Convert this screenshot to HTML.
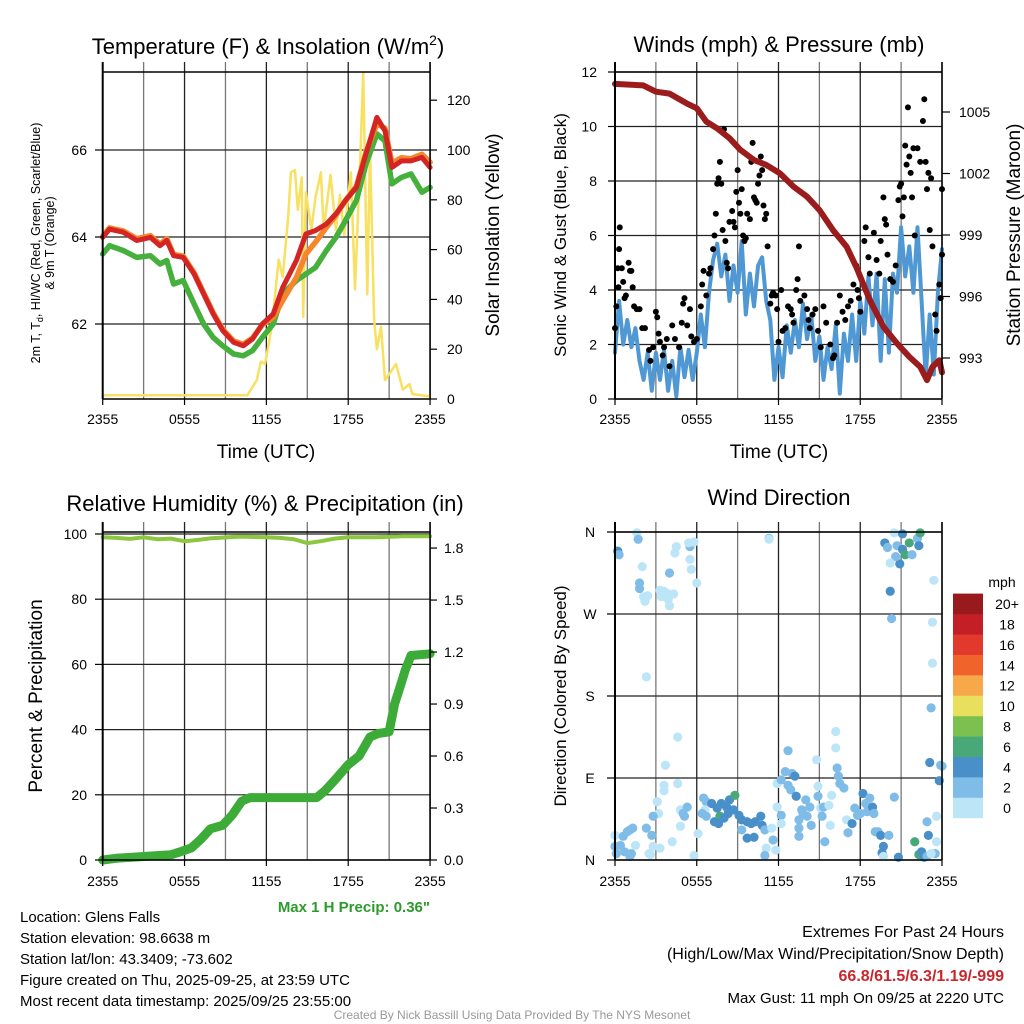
<!DOCTYPE html>
<html><head><meta charset="utf-8"><title>Glens Falls Mesonet</title>
<style>
html,body{margin:0;padding:0;background:#fff;}
svg{display:block;font-family:"Liberation Sans",Arial,sans-serif;}
</style></head>
<body>
<svg id="chart" width="1024" height="1024" viewBox="0 0 1024 1024" xmlns="http://www.w3.org/2000/svg">
<rect width="1024" height="1024" fill="#fff"/>
<g id="grids"></g>
<g id="marks"></g>
<g id="axes"></g>
<g id="labels" fill="#000">
  <text x="268" y="54" font-size="22" text-anchor="middle">Temperature (F) &amp; Insolation (W/m<tspan dy="-9" font-size="14">2</tspan><tspan dy="9">)</tspan></text>
  <text x="779" y="52" font-size="22" text-anchor="middle">Winds (mph) &amp; Pressure (mb)</text>
  <text x="265" y="511" font-size="22" text-anchor="middle">Relative Humidity (%) &amp; Precipitation (in)</text>
  <text x="779" y="505" font-size="22" text-anchor="middle">Wind Direction</text>

  <text x="266" y="458" font-size="19" text-anchor="middle">Time (UTC)</text>
  <text x="779" y="458" font-size="19" text-anchor="middle">Time (UTC)</text>

  <text transform="translate(40,243) rotate(-90)" font-size="12.5" text-anchor="middle">2m T, T<tspan dy="3" font-size="9">d</tspan><tspan dy="-3">, HI/WC (Red, Green, Scarlet/Blue)</tspan></text>
  <text transform="translate(54,243) rotate(-90)" font-size="12.5" text-anchor="middle">&amp; 9m T (Orange)</text>
  <text transform="translate(499,235) rotate(-90)" font-size="19" text-anchor="middle">Solar Insolation (Yellow)</text>
  <text transform="translate(566,235) rotate(-90)" font-size="17" text-anchor="middle">Sonic Wind &amp; Gust (Blue, Black)</text>
  <text transform="translate(1020,235) rotate(-90)" font-size="19" text-anchor="middle">Station Pressure (Maroon)</text>
  <text transform="translate(42,696) rotate(-90)" font-size="19" text-anchor="middle">Percent &amp; Precipitation</text>
  <text transform="translate(566,696) rotate(-90)" font-size="17" text-anchor="middle">Direction (Colored By Speed)</text>

  <text x="430" y="912" font-size="15" font-weight="bold" fill="#2e9a2e" text-anchor="end">Max 1 H Precip: 0.36"</text>
  <text x="1002" y="587" font-size="14" text-anchor="middle">mph</text>

  <g font-size="15">
    <text x="20" y="922">Location: Glens Falls</text>
    <text x="20" y="943">Station elevation: 98.6638 m</text>
    <text x="20" y="964">Station lat/lon: 43.3409; -73.602</text>
    <text x="20" y="985">Figure created on Thu, 2025-09-25, at 23:59 UTC</text>
    <text x="20" y="1006">Most recent data timestamp: 2025/09/25 23:55:00</text>
  </g>
  <g font-size="15" text-anchor="end">
    <text x="1004" y="937" font-size="16">Extremes For Past 24 Hours</text>
    <text x="1004" y="959" font-size="16">(High/Low/Max Wind/Precipitation/Snow Depth)</text>
    <text x="1004" y="981" font-size="16" font-weight="bold" fill="#c8282d">66.8/61.5/6.3/1.19/-999</text>
    <text x="1004" y="1003">Max Gust: 11 mph On 09/25 at 2220 UTC</text>
  </g>
  <text x="512" y="1019" font-size="12" fill="#999" text-anchor="middle">Created By Nick Bassill Using Data Provided By The NYS Mesonet</text>
</g>
</svg>
<script>
// ---------- data ----------
const timeTickLabels = ['2355','0555','1155','1755','2355'];
const tempHours = [0,0.5,1.5,2.5,3.5,4.2,4.7,5.2,5.9,6.7,7.4,8.1,8.8,9.6,10.3,11.0,11.7,12.5,13.2,14.2,14.9,15.6,16.4,17.1,17.8,18.6,19.3,20.1,20.7,21.2,21.9,22.6,23.4,24];
const tempRed = [63.99,64.18,64.11,63.92,63.99,63.80,63.92,63.57,63.53,63.15,62.69,62.23,61.85,61.58,61.50,61.66,62.00,62.23,62.84,63.46,64.07,64.15,64.30,64.53,64.84,65.14,65.91,66.75,66.44,65.60,65.75,65.75,65.83,65.60];
const tempOrange = [64.02,64.21,64.14,63.96,64.03,63.84,63.96,63.60,63.56,63.18,62.72,62.26,61.88,61.61,61.53,61.68,61.98,62.15,62.54,63.07,63.61,63.88,64.22,64.50,64.84,65.16,65.95,66.60,66.50,65.70,65.82,65.80,65.90,65.72];
const tempGreen = [63.61,63.80,63.69,63.53,63.57,63.38,63.46,62.92,63.00,62.46,62.00,61.69,61.50,61.31,61.27,61.39,61.69,62.00,62.69,63.00,63.15,63.30,63.69,63.99,64.38,64.84,65.68,66.37,66.21,65.22,65.37,65.45,65.03,65.14];
const tempTicks = [62,64,66];
const solarHours = [0,10.6,11.3,11.6,11.9,12.4,12.9,13.2,13.6,13.8,14.1,14.3,14.6,14.7,14.9,15.3,15.6,16.0,16.2,16.7,17.1,17.4,17.7,18.2,18.5,18.9,19.1,19.4,19.6,19.9,20.1,20.4,20.7,21.2,21.5,22.0,22.5,22.7,24];
const solarValues = [1.5,1.5,7.6,15,14,29,56,49,73,91,92,76,89,33,83,68,81,91,68,90,68,82,66,91,44,99,131,42,101,32,20,29,7.6,11.6,14,3.8,6,2,1];
const solarTicks = [0,20,40,60,80,100,120];

const windHours = [0,0.3,0.6,0.9,1.2,1.5,1.8,2.1,2.4,2.7,3.0,3.3,3.6,3.9,4.2,4.5,4.8,5.1,5.4,5.7,6.0,6.3,6.6,6.9,7.2,7.5,7.8,8.1,8.4,8.7,9.0,9.3,9.6,9.9,10.2,10.5,10.8,11.1,11.4,11.7,12.0,12.3,12.6,12.9,13.2,13.5,13.8,14.1,14.4,14.7,15.0,15.3,15.6,15.9,16.2,16.5,16.8,17.1,17.4,17.7,18.0,18.3,18.6,18.9,19.2,19.5,19.8,20.1,20.4,20.7,21.0,21.3,21.6,21.9,22.2,22.5,22.8,23.1,23.4,23.7,24];
const windSpeed = [1.7,3.6,2.0,2.9,1.9,2.6,1.4,0.7,1.7,0.3,1.7,0.7,1.8,0.3,1.4,0.1,1.9,0.8,1.8,0.7,1.7,3.1,1.9,3.9,5.1,5.7,4.5,5.3,3.6,4.9,3.9,5.8,3.1,4.6,3.4,4.9,5.2,3.6,2.9,0.7,1.9,0.8,2.7,1.7,2.9,1.9,3.5,2.2,3.1,1.4,2.3,0.7,1.9,1.1,2.7,0.2,2.4,1.4,3.1,1.4,3.6,2.4,4.5,2.7,4.6,1.4,4.4,1.7,4.6,3.9,6.3,4.5,5.6,3.9,6.3,3.6,0.8,3.1,0.9,3.9,5.5];
const gustHours = [0.0,0.1,0.2,0.3,0.35,0.25,0.5,0.6,0.7,0.8,1.0,1.1,1.2,1.3,1.4,1.6,1.8,2.0,2.2,2.5,2.6,2.8,3.0,3.1,3.2,3.3,3.5,3.6,3.8,4.0,4.2,4.4,4.7,4.9,5.0,5.1,5.3,5.5,5.6,5.8,6.0,6.3,6.4,6.5,6.7,6.9,7.0,7.2,7.3,7.4,7.5,7.6,7.7,7.8,7.9,8.0,8.1,8.2,8.3,8.4,8.6,8.7,8.8,8.9,9.0,9.1,9.2,9.3,9.4,9.5,9.6,9.7,9.9,10.0,10.1,10.2,10.3,10.4,10.5,10.6,10.7,10.8,10.9,11.0,11.1,11.2,11.4,11.5,11.6,11.8,11.9,12.0,12.2,12.3,12.5,12.7,12.9,13.0,13.1,13.3,13.4,13.5,13.6,13.9,14.1,14.2,14.3,14.5,14.7,14.9,15.1,15.3,15.5,15.8,16.0,16.1,16.3,16.5,16.7,16.9,17.1,17.3,17.5,17.7,17.8,17.9,18.0,18.3,18.4,18.6,18.7,19.0,19.2,19.4,19.5,19.7,19.8,19.9,20.0,20.2,20.4,20.6,20.8,20.9,21.0,21.1,21.2,21.3,21.4,21.5,21.6,21.7,21.8,21.9,22.0,22.2,22.4,22.6,22.7,22.8,22.9,23.0,23.1,23.2,23.3,23.5,23.6,23.8,23.9,24.0,24.0];
const gustSpeed = [2.6,3.4,4.8,5.5,6.3,4.1,4.8,4.3,3.7,3.8,5.0,4.7,4.7,4.1,3.4,3.3,3.3,2.6,2.6,1.8,1.4,1.9,3.2,3.0,2.4,2.1,1.6,1.9,2.2,1.2,2.7,2.2,1.9,2.8,3.5,3.7,2.7,3.3,2.3,2.1,2.2,3.4,4.2,4.7,3.8,4.6,4.8,5.5,6.0,6.8,7.9,8.1,8.7,7.9,6.2,9.9,5.8,5.0,4.8,6.5,6.9,6.5,6.3,7.6,8.4,7.2,6.8,7.7,6.0,5.8,5.9,6.8,6.6,8.7,9.4,7.4,7.3,7.2,7.9,8.2,8.9,8.4,7.1,6.6,6.8,5.6,3.5,3.8,3.9,3.8,3.3,2.1,4.0,2.5,2.6,3.4,3.3,3.1,2.8,4.0,4.4,5.6,3.6,3.8,3.3,2.9,2.6,3.1,3.3,2.5,1.9,3.4,2.8,2.0,1.5,1.6,2.8,3.8,3.2,2.9,3.4,3.6,4.2,4.9,4.0,3.7,3.2,5.8,6.3,5.2,4.6,6.1,5.1,4.6,5.8,7.4,6.6,6.4,5.3,4.4,4.3,4.9,7.3,7.8,7.9,6.7,7.4,9.3,8.6,10.7,8.9,8.3,7.4,9.2,6.0,9.2,8.7,10.2,11.0,8.7,7.7,8.3,6.2,8.1,5.6,3.1,2.5,4.2,3.7,5.3,7.7];
const pressHours = [0,2.08,3.0,4.0,5.26,6.0,6.7,7.5,8.4,9.2,10.2,11.1,12.1,13.1,14.1,15.0,16.0,17.0,17.7,18.7,19.7,20.7,21.6,22.4,22.9,23.3,23.8,24];
const pressValues = [1006.37,1006.3,1005.99,1005.9,1005.42,1005.18,1004.53,1004.2,1003.72,1003.15,1002.66,1002.42,1002.01,1001.36,1000.87,1000.22,999.24,998.43,997.45,995.83,994.52,993.71,993.06,992.57,991.92,992.57,992.89,992.3];
const windTicks = [0,2,4,6,8,10,12];
const pressTicks = [993,996,999,1002,1005];

const rhHours = [0,1,2,3,4,5,6,7,8,10,12,13,14,15,16,17,18,20,22,24];
const rhValues = [99,98.8,98.5,99,98.4,98.6,97.8,98.2,98.7,99.2,99,98.8,98.4,97.2,97.8,98.6,99,99,99.3,99.3];
const precipHours = [0,1,3,5,5.8,6.5,7.2,7.9,8.8,9.5,10.2,10.8,15.7,16.3,17.0,18.0,18.8,19.6,20.2,21.0,21.4,21.8,22.2,22.6,24];
const precipValues = [0,0.01,0.02,0.03,0.05,0.07,0.12,0.18,0.2,0.26,0.34,0.36,0.36,0.4,0.46,0.55,0.6,0.71,0.73,0.74,0.9,1.0,1.1,1.18,1.19];
const rhTicks = [0,20,40,60,80,100];
const precipTicks = ['0.0','0.3','0.6','0.9','1.2','1.5','1.8'];

// wind direction points: hour, degrees, speed (mph)
const dirHours = [0.2,0.3,1.6,1.7,2.0,1.8,1.8,2.1,2.2,2.4,2.3,3.3,3.6,3.8,3.4,3.9,4.0,4.3,4.0,4.4,4.5,5.5,5.4,5.8,5.5,5.6,6.0,11.3,11.3,
 19.8,20.0,20.5,21.1,20.7,21.1,21.6,21.3,21.8,22.2,22.3,22.4,20.2,20.9,20.6,20.2,20.3,23.4,23.3,23.3,23.2,
 4.6,3.7,3.6,4.6,3.6,3.1,3.2,2.8,2.7,2.8,2.5,2.6,3.3,4.2,2.3,
 0,0,0.4,0.6,0.9,1.1,1.3,0.1,0.7,1.1,1.5,1.2,
 4.8,5.0,5.3,4.8,5.1,5.8,6.1,
 6.5,6.7,7.1,7.5,7.8,8.2,8.4,8.8,7.7,7.3,7.6,8.0,8.3,8.7,9.1,9.3,9.7,10.0,10.3,10.7,10.8,11.0,9.7,10.2,9.3,6.6,6.4,6.7,
 11.5,11.6,11.8,11.1,11.0,
 11.9,12.2,12.5,12.7,13.0,13.2,12.7,12.2,12.2,11.9,12.9,13.3,13.7,14.0,14.1,14.3,14.4,13.8,13.5,13.5,13.5,
 14.8,14.9,14.9,15.1,15.2,15.3,15.4,15.7,15.8,15.9,16.2,16.2,16.3,16.4,16.5,16.8,17.0,17.1,17.4,17.6,17.8,18.0,18.2,18.4,18.5,18.7,18.9,19.0,19.1,19.3,19.5,19.7,19.6,19.7,20.1,20.5,20.8,22.0,22.3,22.5,22.7,22.9,22.9,23.0,23.1,23.8,23.9,24.0,23.6,23.6,23.5,23.2];
const dirDegrees = [339,335,359,352,322,304,298,289,284,290,201,296,295,293,289,286,279,292,315,337,344,344,348,349,330,319,304,353,352,
 348,343,359,358,345,341,348,335,335,353,345,359,295,325,333,326,265,307,261,216,167,
 135,104,82,84,76,64,51,48,27,15,7,6,13,20,35,
 27,15,16,26,31,33,35,7,9,4,16,7,
 55,51,58,37,48,5,29,
 68,64,62,57,62,58,66,71,48,42,40,46,51,55,49,44,42,40,42,48,38,33,24,25,33,55,51,48,
 35,22,11,13,5,
 84,88,97,120,95,92,82,49,40,58,77,70,55,66,48,58,38,51,44,35,26,
 110,81,70,57,48,58,20,60,38,71,141,123,101,92,84,79,44,30,40,57,49,51,73,62,53,68,58,51,31,31,27,15,8,4,27,69,3,20,6,9,3,4,42,27,107,87,104,103,48,20,7,7];
const dirSpeed = [5,3,1,3,1,3,3,1,1,1,1,1,1,1,1,1,1,1,3,1,1,3,1,1,1,1,1,3,1,
 5,3,1,5,3,5,7,7,3,3,5,7,5,5,3,1,3,1,1,1,3,
 1,1,1,1,1,1,1,3,3,1,1,1,1,1,3,
 1,3,3,3,3,3,3,3,3,3,1,3,
 1,3,3,1,3,1,1,
 3,3,5,5,5,5,5,7,7,5,5,5,5,5,5,5,5,5,5,5,5,3,5,5,3,1,3,3,
 1,3,1,1,3,
 1,3,3,3,3,5,3,3,1,1,3,5,3,3,3,3,3,3,3,3,3,
 1,1,3,1,3,3,3,1,1,1,1,1,3,3,3,3,1,3,5,3,3,3,5,3,3,3,5,3,3,3,5,5,5,1,3,3,5,7,7,5,5,3,3,5,5,5,3,3,1,1,3,1];
const dirTickLabels = ['N','E','S','W','N'];
const colorbarLabels = ['0','2','4','6','8','10','12','14','16','18','20+'];
const colorbarColors = ['#bde5f8','#80bce8','#4a90c8','#48a878','#7cc150','#e8e05c','#f7a848','#f0642c','#e13a2c','#c41e27','#981a1d'];

// ---------- axis functions ----------
const NS = 'http://www.w3.org/2000/svg';
const x1 = h => 102.7 + h * 13.64;
const x2 = h => 615 + h * 13.625;
const yTemp = v => 150 - (v - 66) * 43.5;
const ySolar = v => 399 - v * 2.49;
const yWind = v => 399 - v * 27.25;
const yPress = p => 112 + (1005 - p) * 20.5;
const yRH = v => 860 - v * 3.26;
const yPrecip = v => 860 - v * 173.3;
const yDir = d => 860 - d * 328 / 360;
const speedColor = s => colorbarColors[Math.max(0, Math.min(10, Math.floor((s === undefined ? 3 : s) / 2)))];

const grids = document.getElementById('grids');
const marks = document.getElementById('marks');
const axes = document.getElementById('axes');

function el(tag, parent) { const e = document.createElementNS(NS, tag); parent.appendChild(e); return e; }
function line(parent, xa, ya, xb, yb, color, w) {
  const l = el('line', parent);
  l.setAttribute('x1', xa); l.setAttribute('y1', ya); l.setAttribute('x2', xb); l.setAttribute('y2', yb);
  l.setAttribute('stroke', color); l.setAttribute('stroke-width', w);
  return l;
}
function text(parent, x, y, s, size, anchor) {
  const t = el('text', parent);
  t.setAttribute('x', x); t.setAttribute('y', y); t.setAttribute('font-size', size);
  t.setAttribute('text-anchor', anchor); t.textContent = s;
  return t;
}
function poly(parent, xs, ys, color, w) {
  const p = el('polyline', parent);
  p.setAttribute('points', xs.map((x, i) => x.toFixed(1) + ',' + ys[i].toFixed(1)).join(' '));
  p.setAttribute('fill', 'none'); p.setAttribute('stroke', color); p.setAttribute('stroke-width', w);
  p.setAttribute('stroke-linejoin', 'round'); p.setAttribute('stroke-linecap', 'round');
  return p;
}

// ---------- panel frames & grids ----------
function panel(xf, top, bottom, hTicks, xLabelY) {
  for (let k = 0; k <= 8; k++) {
    const g = line(grids, xf(k * 3), top - 10, xf(k * 3), bottom, (k % 2 ? '#777' : '#222'), 1.3);
    
    
  }
  hTicks.forEach(y => {
    const g = line(grids, xf(0), y, xf(24), y, '#222', 1.2);
    
    
  });
  const f = line(axes, xf(0), top, xf(24), top, '#000', 1.5);
  
  
  const b = line(axes, xf(0), bottom, xf(24), bottom, '#000', 1.5);
  
  
  const l = line(axes, xf(0), top - 10, xf(0), bottom, '#000', 2);
  
  
  const r = line(axes, xf(24), top - 10, xf(24), bottom, '#000', 1.5);
  
  
  timeTickLabels.forEach((s, i) => {
    const tk = line(axes, xf(i * 6), bottom, xf(i * 6), bottom + 6, '#000', 1.2);
    
    
    const t = text(axes, xf(i * 6), xLabelY, s, 14, 'middle');
    
    
  });
}
panel(x1, 72, 399, tempTicks.map(yTemp), 424);
panel(x2, 72, 399, windTicks.map(yWind), 424);
panel(x1, 532, 860, rhTicks.map(yRH), 886);
panel(x2, 532, 860, [0, 90, 180, 270, 360].map(yDir), 886);

// ---------- y ticks ----------
tempTicks.forEach(v => {
  const t = text(axes, 87, yTemp(v) + 5, String(v), 14, 'end');
  
  
  const tk = line(axes, 95, yTemp(v), 102.7, yTemp(v), '#000', 1.2);
  
  
});
solarTicks.forEach(v => {
  const t = text(axes, 447, ySolar(v) + 5, String(v), 14, 'start');
  
  
  const tk = line(axes, 430, ySolar(v), 437, ySolar(v), '#000', 1.2);
  
  
});
windTicks.forEach(v => {
  const t = text(axes, 597, yWind(v) + 5, String(v), 14, 'end');
  
  
  const tk = line(axes, 608, yWind(v), 615, yWind(v), '#000', 1.2);
  
  
});
pressTicks.forEach(v => {
  const t = text(axes, 959, yPress(v) + 5, String(v), 14, 'start');
  
  
  const tk = line(axes, 942, yPress(v), 950, yPress(v), '#000', 1.2);
  
  
});
rhTicks.forEach(v => {
  const t = text(axes, 87, yRH(v) + 5, String(v), 14, 'end');
  
  
  const tk = line(axes, 95, yRH(v), 102.7, yRH(v), '#000', 1.2);
  
  
});
precipTicks.forEach(s => {
  const v = parseFloat(s);
  const t = text(axes, 444, yPrecip(v) + 5, s, 14, 'start');
  
  
  const tk = line(axes, 430, yPrecip(v), 437, yPrecip(v), '#000', 1.2);
  
  
});
dirTickLabels.forEach((s, i) => {
  const t = text(axes, 590, yDir(i * 90) + 5, s, 14, 'middle');
  
  
  const tk = line(axes, 607, yDir(i * 90), 615, yDir(i * 90), '#000', 1.2);
  
  
});

// ---------- temperature panel ----------
const pSolar = poly(marks, solarHours.map(x1), solarValues.map(ySolar), '#f8e060', 2.5);


const pGreen = poly(marks, tempHours.map(x1), tempGreen.map(yTemp), '#45b03c', 5.5);


const pOrange = poly(marks, tempHours.map(x1), tempOrange.map(yTemp), '#f5862a', 5.5);


const pRed = poly(marks, tempHours.map(x1), tempRed.map(yTemp), '#d42424', 5);



// ---------- wind panel ----------
const pWind = poly(marks, windHours.map(x2), windSpeed.map(yWind), '#4f98d4', 4);


gustHours.forEach((h, i) => {
  const c = el('circle', marks);
  c.setAttribute('cx', x2(h)); c.setAttribute('cy', yWind(gustSpeed[i])); c.setAttribute('r', 3);
  c.setAttribute('fill', '#000');
  
  
});
const pPress = poly(marks, pressHours.map(x2), pressValues.map(yPress), '#9b1c1c', 6);



// ---------- humidity panel ----------
const pRH = poly(marks, rhHours.map(x1), rhValues.map(yRH), '#8dc63f', 4);


const pPrecip = poly(marks, precipHours.map(x1), precipValues.map(yPrecip), '#3cab38', 9);



// ---------- wind direction panel ----------
dirHours.forEach((h, i) => {
  const c = el('circle', marks);
  c.setAttribute('cx', x2(h)); c.setAttribute('cy', yDir(dirDegrees[i])); c.setAttribute('r', 4.6);
  c.setAttribute('fill', speedColor(dirSpeed[i]));
  
  
});

// ---------- colorbar ----------
colorbarLabels.forEach((s, i) => {
  const top = 818 - (i + 1) * 20.4;
  const r = el('rect', axes);
  r.setAttribute('x', 953); r.setAttribute('y', top); r.setAttribute('width', 30); r.setAttribute('height', 20.6);
  r.setAttribute('fill', colorbarColors[i]);
  
  
  const t = text(axes, 1007, top + 15.5, s, 14, 'middle');
  
  
});
</script>
</body></html>
